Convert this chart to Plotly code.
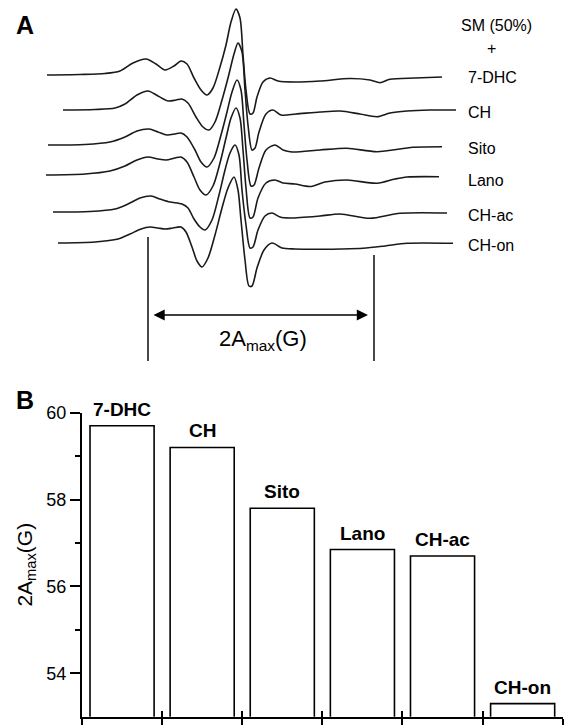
import plotly.graph_objects as go

# ---------------- Panel A: EPR spectra ----------------
# field position (arbitrary field units) and signal level (arbitrary units, offset per sample)
field_7dhc = [47, 80, 105, 120, 133, 146, 156, 165, 174, 181, 187, 194, 201, 207, 213, 220, 226, 231, 236, 240, 243, 246, 250, 253, 257, 263, 270, 278, 295, 320, 350, 370, 380, 390, 415, 442]
sig_7dhc = [75, 74.5, 73.5, 71, 63, 59, 64, 70, 66, 61, 64, 78, 90, 95, 88, 67, 45, 22, 9, 18, 55, 90, 114, 113, 97, 82, 78, 81, 82, 81, 78.5, 80, 82.7, 79.3, 78, 77]

field_ch = [63, 95, 115, 125, 137, 148, 158, 168, 176, 182, 188, 196, 203, 209, 215, 222, 228, 234, 238, 242, 245, 248, 252, 255, 259, 266, 273, 281, 296, 320, 340, 360, 377, 390, 407, 430, 456]
sig_ch = [110, 109.5, 108, 104, 95, 91, 96, 101, 100, 99, 103, 117, 127, 130, 122, 100, 78, 54, 43, 52, 90, 125, 150, 148, 132, 114, 110, 115, 114, 112, 111, 114, 116.7, 113, 111, 110, 110]

field_sito = [48, 85, 110, 125, 137, 149, 158, 167, 175, 181, 187, 195, 201, 207, 214, 221, 227, 232, 237, 241, 244, 247, 251, 254, 259, 266, 275, 283, 292, 320, 347, 377, 413, 442]
sig_sito = [145, 144.5, 142, 137, 131, 129, 132, 135, 134, 133, 137, 150, 162, 167, 158, 135, 112, 92, 80, 90, 125, 160, 186, 185, 168, 150, 145, 150, 152, 150, 148.3, 151.7, 147.3, 146.7]

field_lano = [46, 85, 110, 125, 137, 148, 158, 166, 175, 181, 187, 194, 200, 206, 213, 220, 226, 231, 236, 240, 243, 246, 250, 253, 258, 266, 275, 283, 295, 310, 325, 347, 377, 395, 407, 439]
sig_lano = [175, 174, 171, 166, 160, 157, 159, 160, 158, 157, 162, 177, 190, 195, 186, 163, 138, 118, 108, 118, 150, 188, 218, 217, 198, 183, 180, 183, 184, 186.5, 182, 180, 183.3, 179, 177, 176.7]

field_chac = [53, 90, 115, 128, 140, 151, 160, 170, 182, 188, 194, 200, 205, 212, 219, 225, 230, 235, 239, 242, 246, 250, 253, 258, 265, 272, 280, 290, 320, 340, 370, 400, 447]
sig_chac = [212, 211.5, 209, 204, 198, 196, 199, 202, 204, 208, 219, 227, 230, 220, 195, 170, 153, 145, 155, 190, 225, 248, 247, 230, 216, 213, 217, 218, 216, 214, 218.3, 213.3, 213]

field_chon = [58, 95, 118, 130, 141, 150, 158, 165, 173, 181, 186, 192, 197, 202, 208, 215, 222, 228, 234, 238, 241, 245, 249, 252, 257, 264, 272, 282, 295, 313, 340, 363, 385, 407, 453]
sig_chon = [243, 242, 239, 234, 229, 227, 228, 229, 228, 227, 232, 247, 261, 267, 258, 235, 208, 188, 177, 190, 220, 260, 286, 286, 268, 250, 243, 248, 249, 249.3, 249, 248.3, 246, 243.3, 243.3]

spectra_fields = [field_7dhc, field_ch, field_sito, field_lano, field_chac, field_chon]
spectra_signals = [sig_7dhc, sig_ch, sig_sito, sig_lano, sig_chac, sig_chon]
spectra_names = ["7-DHC", "CH", "Sito", "Lano", "CH-ac", "CH-on"]
label_levels = [77, 112, 148, 180, 215, 245]

# 2Amax marker positions (field units)
amax_low_field = 148
amax_high_field = 374

# ---------------- Panel B: 2Amax values ----------------
categories = ["7-DHC", "CH", "Sito", "Lano", "CH-ac", "CH-on"]
amax_values = [59.7, 59.2, 57.8, 56.85, 56.7, 53.3]

FONT = "Liberation Sans, Arial, sans-serif"
W, H = 574, 725

fig = go.Figure()

# spectra
for f, s, n in zip(spectra_fields, spectra_signals, spectra_names):
    fig.add_trace(go.Scatter(x=f, y=s, mode="lines", name=n, xaxis="x2", yaxis="y2",
                             line=dict(color="#1a1a1a", width=1.6, shape="spline", smoothing=0.8),
                             hoverinfo="skip", showlegend=False))

# 2Amax vertical markers
fig.add_trace(go.Scatter(x=[amax_low_field, amax_low_field], y=[237, 361], mode="lines", xaxis="x2", yaxis="y2",
                         line=dict(color="#1a1a1a", width=1.6), showlegend=False, hoverinfo="skip"))
fig.add_trace(go.Scatter(x=[amax_high_field, amax_high_field], y=[255, 361], mode="lines", xaxis="x2", yaxis="y2",
                         line=dict(color="#1a1a1a", width=1.6), showlegend=False, hoverinfo="skip"))

# bars
fig.add_trace(go.Bar(x=list(range(1, len(categories) + 1)), y=amax_values, width=0.8,
                     marker=dict(color="white", line=dict(color="black", width=1.6)),
                     xaxis="x", yaxis="y", showlegend=False, hoverinfo="skip"))
# helper invisible trace for the overlaying tick axis
fig.add_trace(go.Scatter(x=[None], y=[None], xaxis="x3", yaxis="y", showlegend=False, hoverinfo="skip"))

annotations = []
# trace labels
annotations.append(dict(x=496, y=25, xref="x2", yref="y2", text="SM (50%)", showarrow=False,
                        font=dict(family=FONT, size=16, color="black"), xanchor="center", yanchor="middle"))
annotations.append(dict(x=491, y=48, xref="x2", yref="y2", text="+", showarrow=False,
                        font=dict(family=FONT, size=16, color="black"), xanchor="center", yanchor="middle"))
for n, lv in zip(spectra_names, label_levels):
    annotations.append(dict(x=466, y=lv, xref="x2", yref="y2", text=n, showarrow=False,
                            font=dict(family=FONT, size=16, color="black"), xanchor="left", yanchor="middle"))
# 2Amax arrow
annotations.append(dict(x=368, y=315, ax=152, ay=315, xref="x2", yref="y2", axref="x2", ayref="y2",
                        text="", showarrow=True, arrowhead=2, arrowside="end+start", arrowsize=1.4,
                        arrowwidth=1.6, arrowcolor="black"))
annotations.append(dict(x=263, y=340, xref="x2", yref="y2", text="2A<sub>max</sub>(G)", showarrow=False,
                        font=dict(family=FONT, size=22, color="black"), xanchor="center", yanchor="middle"))
# bar labels
for i, (c, v) in enumerate(zip(categories, amax_values)):
    annotations.append(dict(x=i + 1, y=v, xref="x", yref="y", text="<b>%s</b>" % c, showarrow=False,
                            font=dict(family=FONT, size=19, color="black"), xanchor="center", yanchor="bottom",
                            yshift=4))
# panel letters
annotations.append(dict(x=14 / W, y=1 - 9 / H, xref="paper", yref="paper", text="<b>A</b>", showarrow=False,
                        font=dict(family=FONT, size=25, color="black"), xanchor="left", yanchor="top"))
annotations.append(dict(x=14 / W, y=1 - 384 / H, xref="paper", yref="paper", text="<b>B</b>", showarrow=False,
                        font=dict(family=FONT, size=25, color="black"), xanchor="left", yanchor="top"))

bx0, bx1 = 82 / W, 562.7 / W
by0, by1 = (H - 716.7) / H, (H - 412.7) / H
edges = [i + 0.5 for i in range(len(categories) + 1)]

fig.update_layout(
    template="none",
    width=W, height=H, margin=dict(l=0, r=0, t=0, b=0, pad=0, autoexpand=False),
    paper_bgcolor="white", plot_bgcolor="white",
    font=dict(family=FONT, color="black"),
    showlegend=False,
    annotations=annotations,
    xaxis=dict(domain=[bx0, bx1], range=[0.5, 6.5], tickvals=edges, ticks="outside", ticklen=6, tickwidth=2,
               tickcolor="black", showticklabels=False, showline=True, linewidth=2, linecolor="black",
               showgrid=False, zeroline=False, anchor="y", automargin=False),
    xaxis3=dict(domain=[bx0, bx1], range=[0.5, 6.5], tickvals=edges, ticks="inside", ticklen=6, tickwidth=2,
                tickcolor="black", showticklabels=False, showline=False, showgrid=False, zeroline=False,
                overlaying="x", anchor="y", side="bottom", automargin=False),
    yaxis=dict(domain=[by0, by1], range=[53, 60], tickvals=[54, 56, 58, 60], ticks="outside", ticklen=10,
               tickwidth=2, tickcolor="black", showline=True, linewidth=2, linecolor="black", showgrid=False,
               zeroline=False, anchor="x", automargin=False, tickfont=dict(family=FONT, size=18, color="black"),
               minor=dict(tickvals=[55, 57, 59], ticks="outside", ticklen=5, tickwidth=2, tickcolor="black",
                          showgrid=False),
               title=dict(text="2A<sub>max</sub>(G)", font=dict(family=FONT, size=21, color="black"), standoff=8)),
    xaxis2=dict(domain=[0, 1], range=[0, W], visible=False, anchor="y2", automargin=False),
    yaxis2=dict(domain=[(H - 365) / H, 1], range=[365, 0], visible=False, anchor="x2", automargin=False),
    bargap=0.2,
)

fig.write_html("out.html")
